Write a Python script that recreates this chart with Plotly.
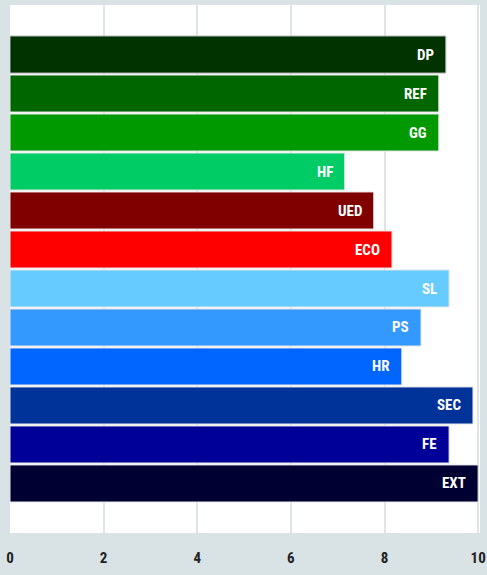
import plotly.graph_objects as go

parties = ["DP", "REF", "GG", "HF", "UED", "ECO", "SL", "PS", "HR", "SEC", "FE", "EXT"]
scores = [9.31, 9.16, 9.16, 7.15, 7.77, 8.16, 9.38, 8.78, 8.37, 9.89, 9.38, 10.0]
colors = ["#003300", "#006600", "#009900", "#00cc66", "#800000", "#ff0000",
          "#66ccff", "#3399ff", "#0066ff", "#003399", "#000099", "#000033"]
x_ticks = [0, 2, 4, 6, 8, 10]

line_colors = ["#b8b8b8"] + ["#e6e6e6"] * (len(parties) - 1)

fig = go.Figure()

fig.add_trace(go.Bar(
    x=scores,
    y=parties,
    orientation="h",
    width=0.95,
    marker=dict(color=colors, line=dict(color=line_colors, width=1)),
    hoverinfo="skip",
))

for p, s in zip(parties, scores):
    fig.add_annotation(
        x=s, y=p, text=p,
        xanchor="right", xshift=-10,
        showarrow=False,
        font=dict(family="Liberation Sans Narrow, Roboto Condensed, Roboto, sans-serif",
                  size=15, color="white", weight="bold"),
    )

fig.update_layout(
    width=487,
    height=575,
    margin=dict(l=10, r=7, t=5, b=42),
    paper_bgcolor="#d9e2e5",
    plot_bgcolor="white",
    showlegend=False,
    bargap=0.05,
    xaxis=dict(
        range=[0, 10.04],
        tickvals=x_ticks,
        showgrid=True,
        gridcolor="#dde5e8",
        gridwidth=1.5,
        zeroline=False,
        ticks="",
        automargin=False,
        ticklabelstandoff=14,
        tickfont=dict(family="Liberation Sans Narrow, Roboto Condensed, Roboto, sans-serif",
                      size=15, color="#222222", weight="bold"),
    ),
    yaxis=dict(
        autorange=False,
        range=[12.27, -1.27],
        showticklabels=False,
        showgrid=False,
        zeroline=False,
        automargin=False,
    ),
)

fig.write_html("out.html", config={"displayModeBar": False},
               post_script="document.body.style.margin='0';")
